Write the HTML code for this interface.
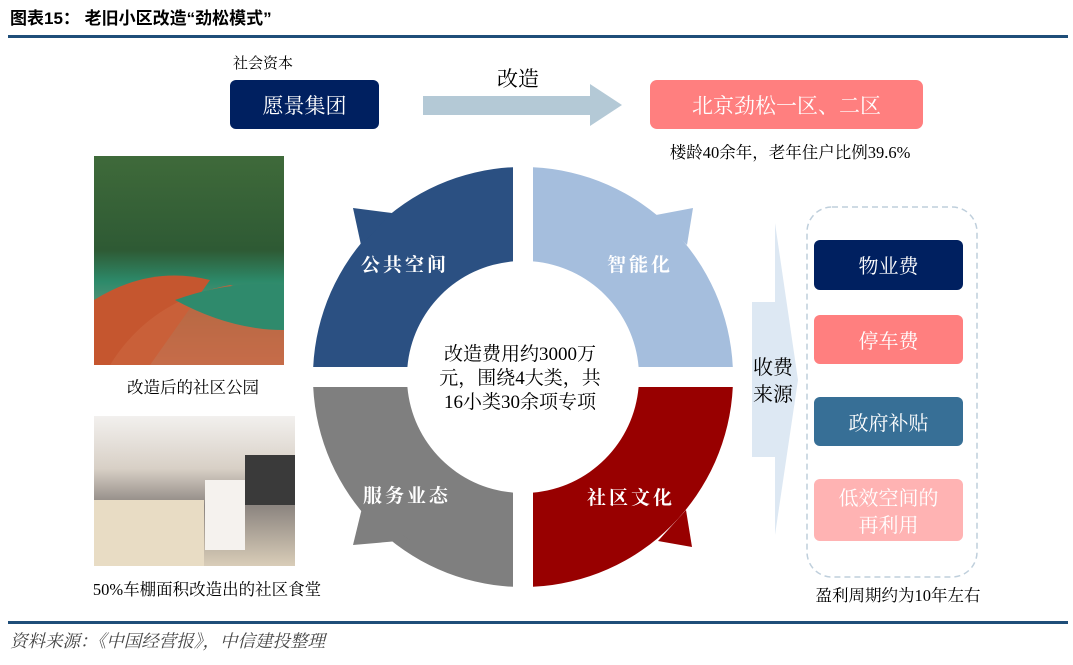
<!DOCTYPE html>
<html><head><meta charset="utf-8"><style>
body{margin:0;background:#fff;width:1073px;height:660px;overflow:hidden}
svg text{font-family:"Liberation Serif","Noto Serif CJK SC",serif}
</style></head><body>
<svg width="1073" height="660" viewBox="0 0 1073 660" xmlns="http://www.w3.org/2000/svg">
<defs>
<linearGradient id="p1" x1="0" y1="0" x2="0" y2="1">
<stop offset="0" stop-color="#3f6a3a"/><stop offset="0.45" stop-color="#2e5a34"/><stop offset="0.6" stop-color="#2d8a6a"/><stop offset="1" stop-color="#b7a79a"/></linearGradient>
<linearGradient id="p2" x1="0" y1="0" x2="0" y2="1">
<stop offset="0" stop-color="#f2f0ee"/><stop offset="0.35" stop-color="#d8d0c6"/><stop offset="0.6" stop-color="#8c8580"/><stop offset="1" stop-color="#d9cdb8"/></linearGradient>
</defs>
<text x="10" y="24" font-size="17" font-weight="bold" style="font-family:'Liberation Sans','Noto Sans CJK SC',sans-serif">图表15：  老旧小区改造“劲松模式”</text>
<rect x="8" y="35" width="1060" height="3" fill="#1f4e79"/>

<text x="233" y="68" font-size="15">社会资本</text>
<rect x="230" y="80" width="149" height="49" rx="6" fill="#002060"/>
<text x="304.5" y="113" font-size="21" fill="#fff" text-anchor="middle">愿景集团</text>

<text x="518" y="86" font-size="21" text-anchor="middle">改造</text>
<polygon points="423,96 590,96 590,84 622,105 590,126 590,115 423,115" fill="#b4c9d6"/>

<rect x="650" y="80" width="273" height="49" rx="7" fill="#ff7f7f"/>
<text x="786.5" y="113" font-size="21" fill="#fff" text-anchor="middle">北京劲松一区、二区</text>
<text x="790" y="158" font-size="16.5" text-anchor="middle">楼龄40余年，老年住户比例39.6%</text>

<!-- photos -->
<rect x="94" y="156" width="190" height="209" fill="url(#p1)"/>
<path d="M94,300 Q150,265 210,280 L150,365 L94,365Z" fill="#c5562f"/>
<path d="M110,365 Q150,300 230,285 L284,300 L284,365Z" fill="#c9613b" opacity="0.85"/>
<path d="M175,300 Q230,280 284,285 L284,330 Q230,330 175,300Z" fill="#2f8a6c"/>
<text x="193" y="393" font-size="16.5" text-anchor="middle">改造后的社区公园</text>
<rect x="94" y="416" width="201" height="150" fill="url(#p2)"/>
<rect x="94" y="500" width="110" height="66" fill="#e8dcc4"/>
<rect x="205" y="480" width="40" height="70" fill="#f5f2ee"/>
<rect x="245" y="455" width="50" height="50" fill="#3a3a3a"/>
<text x="207" y="595" font-size="16.5" text-anchor="middle">50%车棚面积改造出的社区食堂</text>

<!-- ring -->
<path d="M513,167.2 L513,261.4 A116,116 0 0 0 407.4,367 L313.2,367 A210,210 0 0 1 513,167.2Z" fill="#2b5082"/>
<polygon points="353,208 392,213 361,245" fill="#2b5082"/>
<path d="M533,167.2 A210,210 0 0 1 732.8,367 L638.6,367 A116,116 0 0 0 533,261.4Z" fill="#a5bedd"/>
<polygon points="693,208 656,215 687,245" fill="#a5bedd"/>
<path d="M732.8,387 A210,210 0 0 1 533,586.8 L533,492.6 A116,116 0 0 0 638.6,387Z" fill="#980000"/>
<polygon points="692,547 658,541 686,510" fill="#980000"/>
<path d="M513,586.8 A210,210 0 0 1 313.2,387 L407.4,387 A116,116 0 0 0 513,492.6Z" fill="#7f7f7f"/>
<polygon points="353,545 410,540 362,508" fill="#7f7f7f"/>

<g font-size="19" font-weight="bold" fill="#fff" style="font-family:'Noto Sans CJK SC',sans-serif">
<text x="361" y="271" letter-spacing="3">公共空间</text>
<text x="607" y="271" letter-spacing="3">智能化</text>
<text x="363" y="502" letter-spacing="3">服务业态</text>
<text x="587" y="504" letter-spacing="3">社区文化</text>
</g>
<g font-size="19" text-anchor="middle">
<text x="520" y="360">改造费用约3000万</text>
<text x="520" y="384">元，围绕4大类，共</text>
<text x="520" y="408">16小类30余项专项</text>
</g>

<!-- right -->
<polygon points="752,302 775,302 775,223 798,380 775,535 775,457 752,457" fill="#dde8f3"/>
<text x="773" y="374" font-size="20" text-anchor="middle">收费</text>
<text x="773" y="401" font-size="20" text-anchor="middle">来源</text>
<rect x="807" y="207" width="170" height="370" rx="25" fill="none" stroke="#bfcfdc" stroke-width="1.5" stroke-dasharray="6,4"/>
<rect x="814" y="240" width="149" height="50" rx="6" fill="#002060"/>
<text x="888.5" y="273" font-size="20" fill="#fff" text-anchor="middle">物业费</text>
<rect x="814" y="315" width="149" height="49" rx="6" fill="#ff7f7f"/>
<text x="888.5" y="348" font-size="20" fill="#fff" text-anchor="middle">停车费</text>
<rect x="814" y="397" width="149" height="49" rx="6" fill="#376f96"/>
<text x="888.5" y="430" font-size="20" fill="#fff" text-anchor="middle">政府补贴</text>
<rect x="814" y="479" width="149" height="62" rx="6" fill="#ffb3b3"/>
<text x="888.5" y="505" font-size="20" fill="#fff" text-anchor="middle">低效空间的</text>
<text x="888.5" y="532" font-size="20" fill="#fff" text-anchor="middle">再利用</text>
<text x="898" y="601" font-size="16.5" text-anchor="middle">盈利周期约为10年左右</text>

<rect x="8" y="621" width="1060" height="3" fill="#1f4e79"/>
<text x="10" y="647" font-size="17.5" font-style="italic" fill="#444">资料来源：《中国经营报》，中信建投整理</text>
</svg>
</body></html>
